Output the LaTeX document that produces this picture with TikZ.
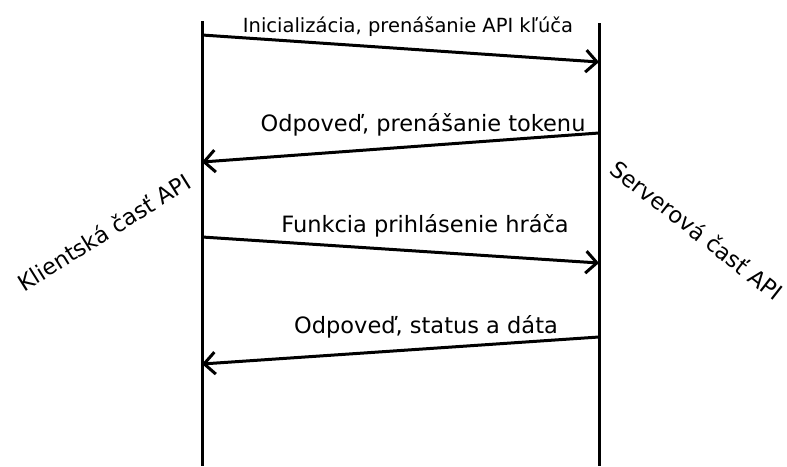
\documentclass[tikz,border=0pt]{standalone}
\usepackage{fontspec}
\setmainfont{DejaVu Sans}
\usetikzlibrary{arrows.meta, positioning}

\begin{document}
\begin{tikzpicture}[x=1pt, y=-1pt, line width=3pt,
    msg/.style={-{Straight Barb[length=11pt, width=22pt, line width=3pt]}},
    lbl/.style={anchor=base, font=\fontsize{22.5}{26}\selectfont},
    side/.style={font=\fontsize{22.5}{26}\selectfont}]
    \useasboundingbox (0,0) rectangle (787,466);
    % lifelines
    \coordinate (kl0) at (202,21);
    \coordinate (kl1) at (202,466);
    \coordinate (sv0) at (599,23);
    \coordinate (sv1) at (599,466);
    \draw (kl0) -- (kl1);
    \draw (sv0) -- (sv1);
    \node[side, rotate=32] (klient) at (104,232) {Klientská časť API};
    \node[side, rotate=-38] (server) at (697,230) {Serverová časť API};
    % messages
    \coordinate (m1a) at (202,35);  \coordinate (m1b) at (599,62);
    \coordinate (m2a) at (599,133); \coordinate (m2b) at (202,162);
    \coordinate (m3a) at (202,237); \coordinate (m3b) at (599,263);
    \coordinate (m4a) at (599,337); \coordinate (m4b) at (202,364);
    \draw[msg] (m1a) -- (m1b);
    \draw[msg] (m2a) -- (m2b);
    \draw[msg] (m3a) -- (m3b);
    \draw[msg] (m4a) -- (m4b);
    \node[lbl, font=\fontsize{19.5}{23}\selectfont] (t1) at (408,32) {Inicializácia, prenášanie API kľúča};
    \node[lbl] (t2) at (423,131) {Odpoveď, prenášanie tokenu};
    \node[lbl] (t3) at (425,232) {Funkcia prihlásenie hráča};
    \node[lbl] (t4) at (426,333) {Odpoveď, status a dáta};
\end{tikzpicture}
\end{document}
